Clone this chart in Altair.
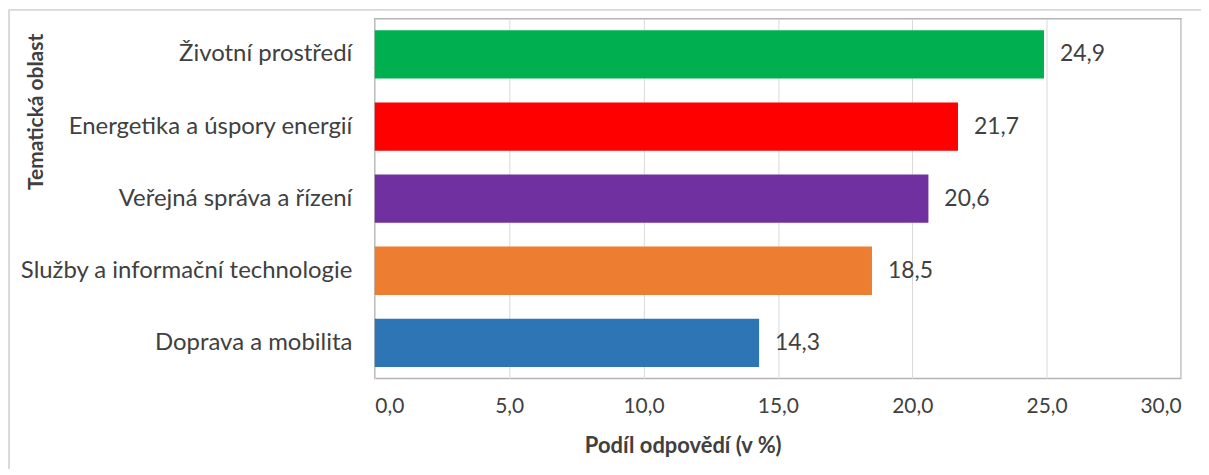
import altair as alt
import pandas as pd

categories = ["Životní prostředí", "Energetika a úspory energií", "Veřejná správa a řízení",
              "Služby a informační technologie", "Doprava a mobilita"]
values = [24.9, 21.7, 20.6, 18.5, 14.3]
colors = ["#00B050", "#FF0000", "#7030A0", "#ED7D31", "#2E75B6"]

df = pd.DataFrame({"oblast": categories, "podil": values, "barva": colors})
df["popisek"] = [f"{v:.1f}".replace(".", ",") for v in values]

FONT = "Lato"
TXT = "#404040"
W, H = 809, 361

y_enc = alt.Y("oblast:N", sort=None,
              scale=alt.Scale(paddingInner=0.33, paddingOuter=0.16),
              axis=alt.Axis(title="Tematická oblast", titleFontWeight="bold", titleFontSize=21,
                            titleColor=TXT, titleFont=FONT, titleAngle=-90, titleAlign="center",
                            titleBaseline="alphabetic", titleX=-333, titleY=93,
                            labelFont=FONT, labelFontSize=24, labelColor=TXT, labelPadding=23,
                            labelLimit=0,
                            ticks=False, domain=False, grid=False))

x_enc = alt.X("podil:Q", scale=alt.Scale(domain=[0, 30], nice=False),
              axis=alt.Axis(title="Podíl odpovědí (v %)", titleFontWeight="bold", titleFontSize=22,
                            titleColor=TXT, titleFont=FONT, titleX=309, titleY=74,
                            titleBaseline="alphabetic", titleAlign="center",
                            values=[0, 5, 10, 15, 20, 25, 30],
                            labelExpr="replace(format(datum.value, '.1f'), '.', ',')",
                            labelFont=FONT, labelFontSize=21, labelColor=TXT, labelPadding=17,
                            ticks=False, domain=False, grid=True, gridColor="#D9D9D9", gridWidth=1))

bars = alt.Chart(df).mark_bar().encode(
    y=y_enc, x=x_enc,
    color=alt.Color("barva:N", scale=None, legend=None),
)

labels = alt.Chart(df).mark_text(align="left", baseline="middle", dx=16,
                                 font=FONT, fontSize=23, color=TXT).encode(
    y=alt.Y("oblast:N", sort=None), x="podil:Q", text="popisek:N"
)

frame_top = alt.Chart(df).mark_rule(color="#D9D9D9", strokeWidth=1).encode(
    x=alt.value(-367), x2=alt.value(W + 40), y=alt.value(-9)
)
frame_left = alt.Chart(df).mark_rule(color="#D9D9D9", strokeWidth=1).encode(
    x=alt.value(-367), y=alt.value(-9), y2=alt.value(H + 100)
)

chart = alt.layer(frame_top, frame_left, bars, labels).properties(
    width=W, height=H,
    autosize=alt.AutoSizeParams(type="none"),
    padding={"left": 368, "top": 10, "right": 20, "bottom": 90},
    background="white",
).configure_view(stroke="#B4B4B4", strokeWidth=1.5)

chart.save("out.html", embed_options={"renderer": "svg", "actions": False})
